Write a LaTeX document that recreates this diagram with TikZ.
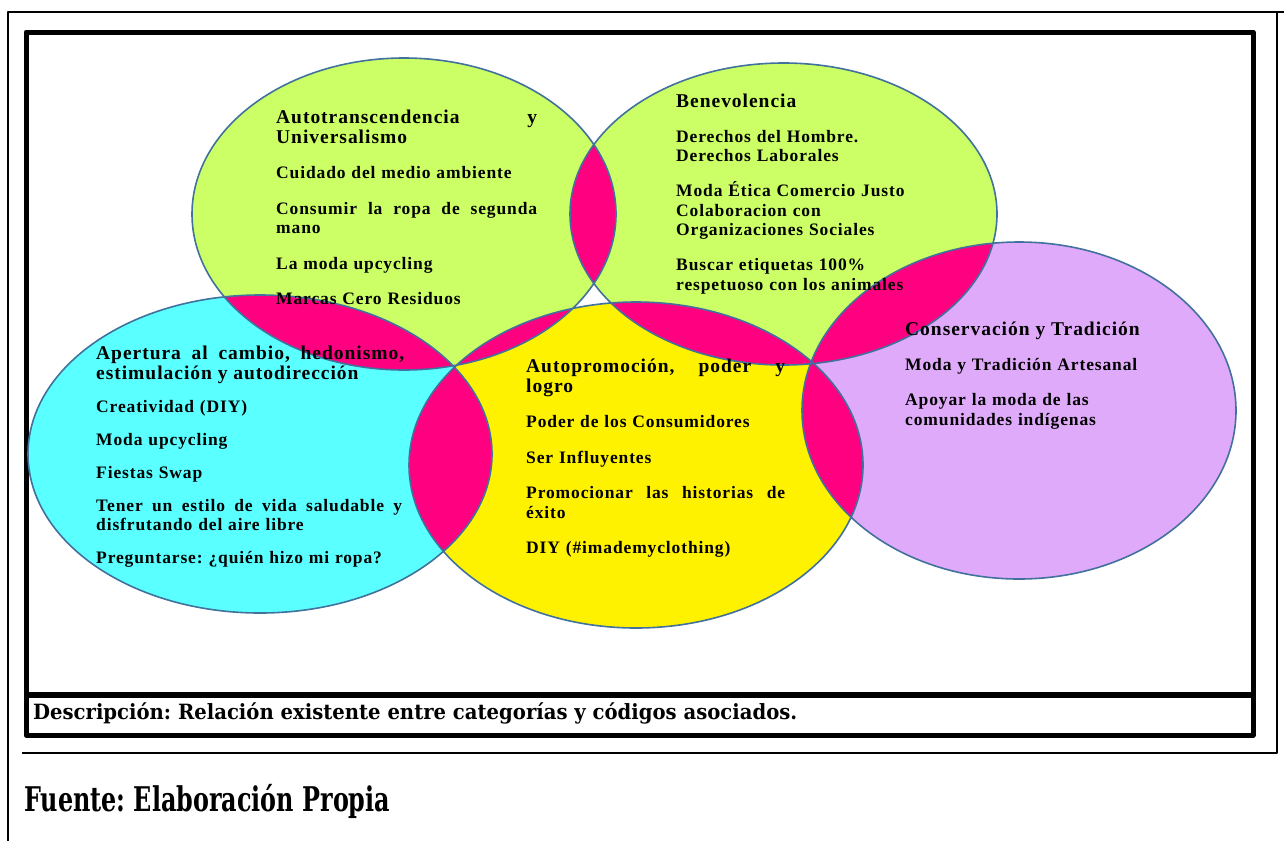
\documentclass[tikz,border=0pt]{standalone}
\usepackage{fontspec}
\usepackage{graphicx}
\setmainfont{Liberation Serif}
\newfontfamily\capfont{DejaVu Serif}
\frenchspacing
\definecolor{lima}{RGB}{204,255,102}
\definecolor{celeste}{RGB}{90,255,255}
\definecolor{amarillo}{RGB}{255,242,0}
\definecolor{lila}{RGB}{224,170,250}
\definecolor{fucsia}{RGB}{255,0,128}
\definecolor{borde}{RGB}{65,113,156}
\newcommand{\elGL}{(404,214) ellipse (212 and 156)}
\newcommand{\elGR}{(783.5,214) ellipse (213.5 and 151)}
\newcommand{\elCY}{(260,454) ellipse (232 and 159)}
\newcommand{\elYE}{(636,465) ellipse (227 and 163)}
\newcommand{\elPU}{(1019,410.5) ellipse (217 and 168.5)}
\newcommand{\jl}[2]{{\spaceskip=0.3em plus 1fil\makebox[#1pt][s]{#2}}}
\newcommand{\brecha}{16pt}
\newcommand{\salto}{\\[\brecha]}
\newcommand{\titulo}{\fontsize{19.5}{19.5}\selectfont}
\tikzset{
  circulo/.style={draw=borde, line width=1.6pt},
  bloque/.style={anchor=north west, inner sep=0pt, align=left, text width=#1pt,
    font=\fontsize{17.5}{19.5}\selectfont\bfseries\addfontfeatures{LetterSpace=5},
    execute at begin node={\noindent\rule{0pt}{14pt}}},
}
\begin{document}
\begin{tikzpicture}[x=1pt, y=-1pt, line join=round]
\useasboundingbox (0,0) rectangle (1284,841);
% marcos
\draw[line width=2.5pt] (1284,12) -- (8,12) -- (8,841);
\draw[line width=2.5pt] (1277,12) -- (1277,753) -- (22,753);
\draw[line width=5pt] (26,32) rectangle (1253,735);
\draw[line width=6pt] (26,695) -- (1253,695);
% circulos
\fill[lima] \elGL;
\fill[lima] \elGR;
\fill[celeste] \elCY;
\fill[amarillo] \elYE;
\fill[lila] \elPU;
\begin{scope}
  \clip \elGL;
  \fill[fucsia] \elGR;
  \fill[fucsia] \elCY;
  \fill[fucsia] \elYE;
\end{scope}
\begin{scope}
  \clip \elYE;
  \fill[fucsia] \elGR;
  \fill[fucsia] \elCY;
  \fill[fucsia] \elPU;
\end{scope}
\begin{scope}
  \clip \elGR;
  \fill[fucsia] \elPU;
\end{scope}
\draw[circulo] \elGL \elGR \elCY \elYE \elPU;
% textos
\node[bloque=261] (tGL) at (276,109.7) {{\titulo\jl{261}{Autotranscendencia y}\\ Universalismo}\salto
  Cuidado del medio ambiente\salto
  \jl{261}{Consumir la ropa de segunda}\\ mano\salto
  La moda upcycling\salto
  Marcas Cero Residuos};
\node[bloque=245] (tGR) at (676,93) {\renewcommand{\brecha}{15.5pt}{\titulo Benevolencia}\salto
  Derechos del Hombre.\\ Derechos Laborales\salto
  Moda Ética Comercio Justo\\ Colaboracion con\\ Organizaciones Sociales\salto
  Buscar etiquetas 100\%\\ respetuoso con los animales};
\node[bloque=310] (tCY) at (96,345.7) {\renewcommand{\brecha}{13.5pt}{\titulo\jl{308}{Apertura al cambio, hedonismo,}\\ estimulación y autodirección}\salto
  Creatividad (DIY)\salto
  Moda upcycling\salto
  Fiestas Swap\salto
  \jl{306}{Tener un estilo de vida saludable y}\\ disfrutando del aire libre\salto
  Preguntarse: ¿quién hizo mi ropa?};
\node[bloque=260] (tYE) at (526,358.7) {{\titulo\jl{259}{Autopromoción, poder y}\\ logro}\salto
  Poder de los Consumidores\salto
  Ser Influyentes\salto
  \jl{259}{Promocionar las historias de}\\ éxito\salto
  DIY (\#imademyclothing)};
\node[bloque=270] (tPU) at (905,321) {\renewcommand{\brecha}{15.75pt}{\titulo Conservación y Tradición}\salto
  Moda y Tradición Artesanal\salto
  Apoyar la moda de las\\ comunidades indígenas};
\node[anchor=base west, inner sep=0pt, font=\capfont\bfseries\fontsize{21}{22}\selectfont] (desc) at (33,719)
  {\resizebox{764pt}{\height}{Descripción: Relación existente entre categorías y códigos asociados.}};
\node[anchor=base west, inner sep=0pt, font=\capfont\bfseries\fontsize{34}{36}\selectfont] (fuente) at (24,811)
  {\resizebox{366pt}{\height}{Fuente: Elaboración Propia}};
\end{tikzpicture}
\end{document}
